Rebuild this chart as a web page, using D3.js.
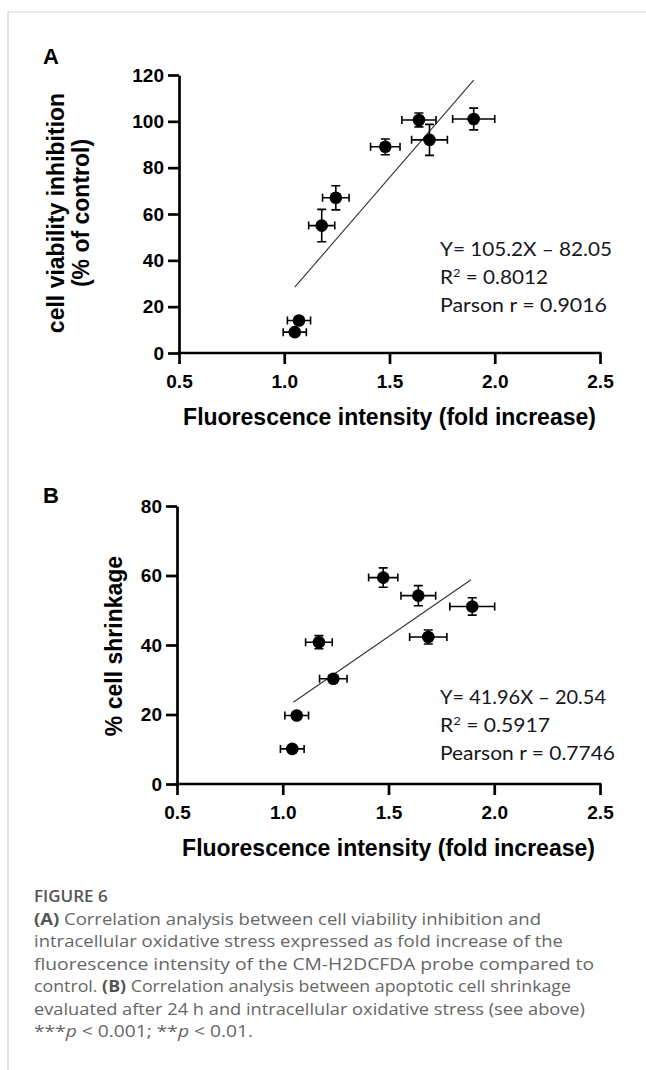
<!DOCTYPE html>
<html>
<head>
<meta charset="utf-8">
<script src="https://cdn.jsdelivr.net/npm/d3@7/dist/d3.min.js"></script>
<style>
  html, body { margin: 0; padding: 0; background: #fff; }
  svg { display: block; }
</style>
</head>
<body>
<svg id="fig" width="646" height="1070"></svg>
<script>
// ---------------- DATA ----------------
const xTicks = [0.5, 1.0, 1.5, 2.0, 2.5];

// Panel A: cell viability inhibition vs fluorescence fold increase
const foldA = [1.05, 1.07, 1.178, 1.245, 1.48, 1.64, 1.69, 1.90];
const foldErrA = [0.055, 0.055, 0.062, 0.063, 0.07, 0.081, 0.085, 0.10];
const viabilityA = [9, 14, 55, 67, 89, 100.6, 92, 101];
const viabilityErrA = [1.5, 1.5, 7, 5.2, 3.4, 3, 6.7, 4.7];
const yTicksA = [0, 20, 40, 60, 80, 100, 120];
const fitA = { slope: 105.2, intercept: -82.05, from: 1.05, to: 1.90 };
const statsA = ["Y= 105.2X \u2013 82.05", "R2 = 0.8012", "Parson r = 0.9016"];

// Panel B: % cell shrinkage vs fluorescence fold increase
const foldB = [1.045, 1.066, 1.171, 1.239, 1.475, 1.641, 1.688, 1.896];
const foldErrB = [0.056, 0.056, 0.063, 0.065, 0.069, 0.082, 0.088, 0.106];
const shrinkB = [10.1, 19.7, 40.8, 30.3, 59.4, 54.2, 42.3, 51.1];
const shrinkErrB = [1, 1, 1.9, 1, 2.8, 2.9, 2, 2.5];
const yTicksB = [0, 20, 40, 60, 80];
const fitB = { slope: 41.96, intercept: -20.54, from: 1.05, to: 1.89 };
const statsB = ["Y= 41.96X \u2013 20.54", "R2 = 0.5917", "Pearson r = 0.7746"];

const xTitle = "Fluorescence intensity (fold increase)";

// ---------------- DRAW ----------------
const svg = d3.select("#fig");

// frame lines
svg.append("line").attr("x1", 8).attr("y1", 12).attr("x2", 646).attr("y2", 12)
  .attr("stroke", "#d4d4d4").attr("stroke-width", 1.2);
svg.append("line").attr("x1", 8).attr("y1", 12).attr("x2", 8).attr("y2", 1070)
  .attr("stroke", "#d4d4d4").attr("stroke-width", 1.2);

const axisFont = "'Liberation Sans', Arial, Helvetica, sans-serif";
const statFont = "Lato, 'Open Sans', sans-serif";

function panel(cfg) {
  const g = svg.append("g");
  const x = d3.scaleLinear().domain([0.5, 2.5]).range(cfg.xRange);
  const y = d3.scaleLinear().domain(cfg.yDomain).range(cfg.yRange);

  // panel letter
  g.append("text").attr("x", cfg.letterPos[0]).attr("y", cfg.letterPos[1])
    .attr("font-family", axisFont).attr("font-weight", "bold").attr("font-size", 22)
    .text(cfg.letter);

  // axes
  const xAxis = d3.axisBottom(x).tickValues(xTicks).tickFormat(d3.format(".1f"))
    .tickSize(11).tickSizeOuter(0).tickPadding(11);
  const yAxis = d3.axisLeft(y).tickValues(cfg.yTicks).tickFormat(d3.format("d"))
    .tickSize(11).tickSizeOuter(0).tickPadding(4);

  const gx = g.append("g").attr("transform", `translate(0,${cfg.yRange[0]})`).call(xAxis);
  const gy = g.append("g").attr("transform", `translate(${cfg.xRange[0]},0)`).call(yAxis);
  [gx, gy].forEach(a => {
    a.select(".domain").attr("stroke", "#000").attr("stroke-width", 2.7);
    a.selectAll(".tick line").attr("stroke", "#000").attr("stroke-width", 2.7);
    a.selectAll(".tick text").attr("fill", "#000").attr("font-family", axisFont)
      .attr("font-weight", "bold").attr("font-size", 19);
  });
  gx.select(".domain").attr("d", `M${cfg.xRange[0] - 1.35},0H${cfg.xRange[1] + 1.35}`);

  // axis titles
  g.append("text")
    .attr("x", (cfg.xRange[0] + cfg.xRange[1]) / 2).attr("y", cfg.xTitleY)
    .attr("text-anchor", "middle").attr("font-family", axisFont)
    .attr("font-weight", "bold").attr("font-size", 23).attr("fill", "#000")
    .text(xTitle);

  cfg.yTitle.forEach((t, i) => {
    g.append("text")
      .attr("transform", `translate(${cfg.yTitleX[i]},${cfg.yTitleCY}) rotate(-90)`)
      .attr("text-anchor", "middle").attr("font-family", axisFont)
      .attr("font-weight", "bold").attr("font-size", 23).attr("fill", "#000")
      .text(t);
  });

  // regression line
  g.append("line")
    .attr("x1", x(cfg.fit.from)).attr("y1", y(cfg.fit.slope * cfg.fit.from + cfg.fit.intercept))
    .attr("x2", x(cfg.fit.to)).attr("y2", y(cfg.fit.slope * cfg.fit.to + cfg.fit.intercept))
    .attr("stroke", "#333").attr("stroke-width", 1.1);

  const pts = cfg.xs.map((d, i) => ({ x: d, xe: cfg.xe[i], y: cfg.ys[i], ye: cfg.ye[i] }));
  const cap = 4;
  const eb = g.append("g").attr("stroke", "#000").attr("stroke-width", 1.6).attr("fill", "none");
  pts.forEach(p => {
    const cx = x(p.x), cy = y(p.y);
    const x0 = x(p.x - p.xe), x1 = x(p.x + p.xe);
    const y0 = y(p.y - p.ye), y1 = y(p.y + p.ye);
    eb.append("path").attr("d",
      `M${x0},${cy}H${x1}M${x0},${cy - cap}V${cy + cap}M${x1},${cy - cap}V${cy + cap}` +
      `M${cx},${y0}V${y1}M${cx - cap - 0.5},${y0}H${cx + cap + 0.5}M${cx - cap - 0.5},${y1}H${cx + cap + 0.5}`);
  });
  g.append("g").selectAll("circle").data(pts).join("circle")
    .attr("cx", d => x(d.x)).attr("cy", d => y(d.y)).attr("r", 6.3).attr("fill", "#000");

  // stats text
  cfg.stats.forEach((s, i) => {
    const t = g.append("text").attr("x", cfg.statsPos[0]).attr("y", cfg.statsPos[1] + i * 28.2)
      .attr("font-family", statFont).attr("font-size", 19.5).attr("fill", "#16161e")
      .attr("textLength", cfg.statsW[i]).attr("lengthAdjust", "spacingAndGlyphs");
    if (s.startsWith("R2")) {
      t.append("tspan").text("R");
      t.append("tspan").attr("font-size", 12).attr("dy", -7).text("2");
      t.append("tspan").attr("dy", 7).text(" = " + s.split("= ")[1]);
    } else {
      t.text(s);
    }
  });
}

panel({
  letter: "A", letterPos: [43, 64],
  xRange: [179, 600], yRange: [353, 75], yDomain: [0, 120], yTicks: yTicksA,
  xTitleY: 425, yTitle: ["cell viability inhibition", "(% of control)"], yTitleX: [64, 89], yTitleCY: 213,
  xs: foldA, xe: foldErrA, ys: viabilityA, ye: viabilityErrA, fit: fitA,
  stats: statsA, statsPos: [440, 256], statsW: [172, 108, 167]
});

panel({
  letter: "B", letterPos: [43, 503],
  xRange: [177, 600], yRange: [784, 506], yDomain: [0, 80], yTicks: yTicksB,
  xTitleY: 856, yTitle: ["% cell shrinkage"], yTitleX: [122], yTitleCY: 646,
  xs: foldB, xe: foldErrB, ys: shrinkB, ye: shrinkErrB, fit: fitB,
  stats: statsB, statsPos: [440, 703.5], statsW: [166, 110, 175]
});

// ---------------- CAPTION ----------------
const capFont = "'Open Sans', 'Noto Sans', sans-serif";
svg.append("text").attr("x", 34).attr("y", 902)
  .attr("font-family", capFont).attr("font-weight", 600).attr("font-size", 17)
  .attr("fill", "#555").text("FIGURE 6");

const captionLines = [
  [["(A)", true], [" Correlation analysis between cell viability inhibition and", false]],
  [["intracellular oxidative stress expressed as fold increase of the", false]],
  [["fluorescence intensity of the CM-H2DCFDA probe compared to", false]],
  [["control. ", false], ["(B)", true], [" Correlation analysis between apoptotic cell shrinkage", false]],
  [["evaluated after 24 h and intracellular oxidative stress (see above)", false]],
  [["***", false], ["p", "i"], [" < 0.001; **", false], ["p", "i"], [" < 0.01.", false]]
];
const captionWidths = [507, 529, 560, 537, 551, 219];
captionLines.forEach((parts, i) => {
  const t = svg.append("text").attr("x", 34).attr("y", 925 + i * 22.4)
    .attr("font-family", capFont).attr("font-size", 15.5).attr("fill", "#666")
    .attr("textLength", captionWidths[i]).attr("lengthAdjust", "spacingAndGlyphs");
  parts.forEach(([s, style]) => {
    const ts = t.append("tspan").text(s);
    if (style === true) ts.attr("font-weight", 700).attr("fill", "#555");
    if (style === "i") ts.attr("font-style", "italic");
  });
});
</script>
</body>
</html>
